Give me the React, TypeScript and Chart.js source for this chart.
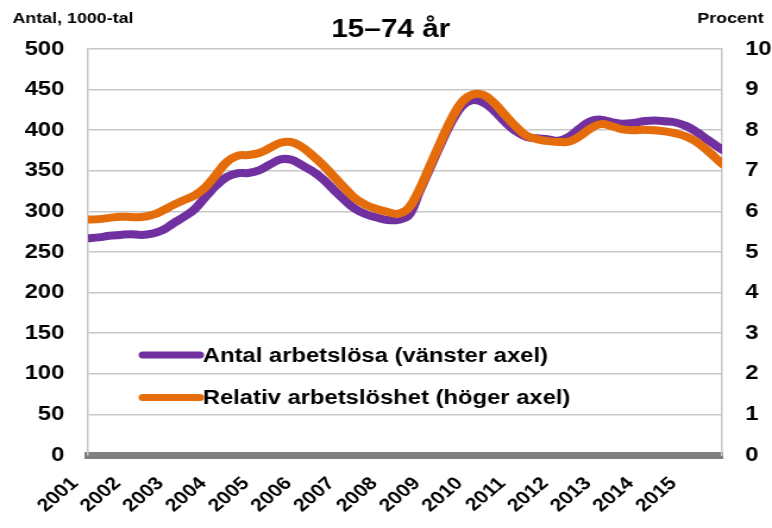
import React, { useEffect, useRef } from "react";
import { Chart, registerables } from "chart.js";

Chart.register(...registerables);

// ---- data ----
const START_YEAR = 2001;
const YEAR_LABELS = ["2001", "2002", "2003", "2004", "2005", "2006", "2007", "2008", "2009", "2010", "2011", "2012", "2013", "2014", "2015"];
const LEFT_TICKS = [0, 50, 100, 150, 200, 250, 300, 350, 400, 450, 500];
const RIGHT_TICKS = [0, 1, 2, 3, 4, 5, 6, 7, 8, 9, 10];

// months since January 2001 (every third month, last = November 2015)
const MONTHS = [
  0, 3, 6, 9, 12, 15, 18, 21, 24, 27,
  30, 33, 36, 39, 42, 45, 48, 51, 54, 57,
  60, 63, 66, 69, 72, 75, 78, 81, 84, 87,
  90, 93, 96, 99, 102, 105, 108, 111, 114, 117,
  120, 123, 126, 129, 132, 135, 138, 141, 144, 147,
  150, 153, 156, 159, 162, 165, 168, 171, 174, 178,
];
// Antal arbetslösa, 1000-tal
const ANTAL = [
  267, 268, 270, 271, 272, 271, 272.7, 277, 285.5, 293.5,
  303, 318, 332, 342.5, 347, 347.3, 350.5, 357.5, 364, 363.7,
  357, 349.5, 339.5, 326.5, 314, 303, 296.5, 292.5, 289.5, 289.5,
  295, 324, 353.5, 383, 410, 430, 437, 434, 424, 410.5,
  399, 392, 390, 389, 387, 392, 402, 411, 413, 410,
  408, 409, 411, 412, 411, 409.5, 405, 397.5, 388, 376,
];
// Relativ arbetslöshet, procent
const RELATIV = [
  5.80, 5.81, 5.84, 5.87, 5.86, 5.86, 5.91, 6.02, 6.16, 6.28,
  6.40, 6.60, 6.91, 7.22, 7.37, 7.39, 7.44, 7.56, 7.69, 7.71,
  7.59, 7.38, 7.14, 6.86, 6.58, 6.32, 6.16, 6.06, 5.99, 5.94,
  6.08, 6.53, 7.12, 7.71, 8.27, 8.70, 8.88, 8.87, 8.67, 8.38,
  8.10, 7.87, 7.78, 7.73, 7.71, 7.72, 7.85, 8.04, 8.15, 8.10,
  8.02, 8.00, 8.01, 8.00, 7.97, 7.92, 7.84, 7.70, 7.49, 7.17,
];

const TITLE = "15–74 år";
const LEFT_TITLE = "Antal, 1000-tal";
const RIGHT_TITLE = "Procent";
const SERIES_ANTAL = "Antal arbetslösa (vänster axel)";
const SERIES_RELATIV = "Relativ arbetslöshet (höger axel)";

const PURPLE = "#7030A0";
const ORANGE = "#E46C0A";
const GRID = "#c8c8c8";
const FONT = "'Liberation Sans', Arial, sans-serif";

// canvas is rendered narrower and stretched horizontally like the reference
const PAGE_W = 772;
const PAGE_H = 528;
const INNER_W = 649;

export default function App() {
  const ref = useRef<HTMLCanvasElement | null>(null);

  useEffect(() => {
    if (!ref.current) return;
    const toPts = (arr: number[]) => arr.map((v, i) => ({ x: START_YEAR + MONTHS[i] / 12, y: v }));
    const lastX = START_YEAR + MONTHS[MONTHS.length - 1] / 12;

    const overlay = {
      id: "overlay",
      afterDraw(chart: any) {
        const ctx = chart.ctx as CanvasRenderingContext2D;
        const area = chart.chartArea;
        ctx.save();
        ctx.fillStyle = "#000";
        ctx.textBaseline = "alphabetic";
        ctx.font = `bold 25px ${FONT}`;
        ctx.textAlign = "center";
        ctx.fillText(TITLE, 328.5, 36.5);
        ctx.font = `bold 15px ${FONT}`;
        ctx.textAlign = "left";
        ctx.fillText(LEFT_TITLE, 10.5, 22.5);
        ctx.textAlign = "right";
        ctx.fillText(RIGHT_TITLE, 642, 22.5);

        // legend inside the plot
        const items = [
          { label: SERIES_ANTAL, color: PURPLE, y: 355 },
          { label: SERIES_RELATIV, color: ORANGE, y: 397.5 },
        ];
        ctx.font = `bold 20px ${FONT}`;
        ctx.textAlign = "left";
        ctx.textBaseline = "middle";
        for (const it of items) {
          ctx.strokeStyle = it.color;
          ctx.lineWidth = 7;
          ctx.lineCap = "round";
          ctx.beginPath();
          ctx.moveTo(area.left + 46, it.y);
          ctx.lineTo(area.left + 94, it.y);
          ctx.stroke();
          ctx.fillStyle = "#000";
          ctx.fillText(it.label, area.left + 96.5, it.y + 1);
        }
        ctx.restore();
      },
    };

    const chart = new Chart(ref.current, {
      type: "line",
      data: {
        datasets: [
          {
            label: SERIES_RELATIV,
            data: toPts(RELATIV),
            yAxisID: "y2",
            borderColor: ORANGE,
            backgroundColor: ORANGE,
            borderWidth: 8,
            pointRadius: 0,
            tension: 0.4,
            borderCapStyle: "round",
            borderJoinStyle: "round",
            order: 0,
          },
          {
            label: SERIES_ANTAL,
            data: toPts(ANTAL),
            yAxisID: "y",
            borderColor: PURPLE,
            backgroundColor: PURPLE,
            borderWidth: 8,
            pointRadius: 0,
            tension: 0.4,
            borderCapStyle: "round",
            borderJoinStyle: "round",
            order: 1,
          },
        ],
      },
      options: {
        animation: false,
        responsive: false,
        devicePixelRatio: 1,
        layout: { padding: { top: 49, left: 0, right: 0, bottom: 0 } },
        plugins: {
          legend: { display: false },
          title: { display: false },
          tooltip: { enabled: false },
        },
        scales: {
          x: {
            type: "linear",
            min: START_YEAR,
            max: lastX,
            grid: { display: false, drawTicks: false },
            border: { display: true, color: "#808080", width: 7 },
            ticks: {
              stepSize: 1,
              includeBounds: false,
              autoSkip: false,
              maxRotation: 45,
              minRotation: 45,
              padding: 18,
              labelOffset: -11,
              color: "#000",
              font: { family: FONT, size: 18, weight: "bold" },
              callback: (v: any) => {
                const idx = Number(v) - START_YEAR;
                return Number.isInteger(idx) && idx >= 0 && idx < YEAR_LABELS.length ? YEAR_LABELS[idx] : "";
              },
            },
            afterFit: (s: any) => {
              s.height = PAGE_H - 455;
            },
          },
          y: {
            position: "left",
            min: LEFT_TICKS[0],
            max: LEFT_TICKS[LEFT_TICKS.length - 1],
            grid: { color: GRID, lineWidth: 1.5, drawTicks: false },
            border: { display: true, color: GRID, width: 1.5 },
            afterBuildTicks: (s: any) => {
              s.ticks = LEFT_TICKS.map((v) => ({ value: v }));
            },
            ticks: {
              padding: 20,
              color: "#000",
              font: { family: FONT, size: 20, weight: "bold" },
              callback: (v: any) => String(v),
            },
            afterFit: (s: any) => {
              s.width = 74;
            },
          },
          y2: {
            position: "right",
            min: RIGHT_TICKS[0],
            max: RIGHT_TICKS[RIGHT_TICKS.length - 1],
            grid: { drawOnChartArea: false, drawTicks: false },
            border: { display: true, color: GRID, width: 1.5 },
            afterBuildTicks: (s: any) => {
              s.ticks = RIGHT_TICKS.map((v) => ({ value: v }));
            },
            ticks: {
              padding: 19.5,
              color: "#000",
              font: { family: FONT, size: 20, weight: "bold" },
              callback: (v: any) => String(v),
            },
            afterFit: (s: any) => {
              s.width = 42;
            },
          },
        },
      },
      plugins: [overlay],
    } as any);

    return () => chart.destroy();
  }, []);

  return (
    <div style={{ position: "absolute", left: 0, top: 0, width: PAGE_W, height: PAGE_H, background: "#fff" }}>
      <canvas
        ref={ref}
        width={INNER_W}
        height={PAGE_H}
        style={{ display: "block", width: `${PAGE_W}px`, height: `${PAGE_H}px` }}
      />
    </div>
  );
}
